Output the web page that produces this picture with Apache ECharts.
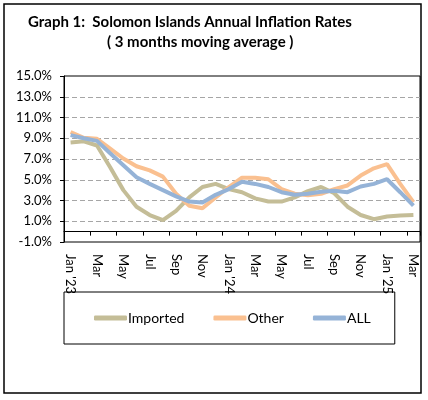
<!DOCTYPE html>
<html lang="en">
<head>
    <meta charset="UTF-8">
    <title>Solomon Islands Annual Inflation Rates</title>
    <script src="https://cdn.jsdelivr.net/npm/echarts@6/dist/echarts.min.js"></script>
    <style>
        html, body { margin: 0; padding: 0; background: #fff; }
    </style>
</head>
<body>
    <div id="main" style="width: 428px;height:400px;"></div>
    <script type="text/javascript">

        // months Jan '23 .. Mar '25
        var months = ["Jan '23", 'Feb', 'Mar', 'Apr', 'May', 'Jun', 'Jul', 'Aug', 'Sep', 'Oct', 'Nov', 'Dec',
                      "Jan '24", 'Feb', 'Mar', 'Apr', 'May', 'Jun', 'Jul', 'Aug', 'Sep', 'Oct', 'Nov', 'Dec',
                      "Jan '25", 'Feb', 'Mar'];

        var imported = [8.6, 8.7, 8.3, 6.2, 4.0, 2.4, 1.6, 1.1, 2.0, 3.3, 4.3, 4.6,
                        4.1, 3.8, 3.2, 2.9, 2.9, 3.3, 3.9, 4.3, 3.7, 2.4, 1.6, 1.2,
                        1.45, 1.55, 1.6];
        var other    = [9.6, 9.05, 8.95, 8.0, 7.05, 6.3, 5.9, 5.3, 3.65, 2.5, 2.25, 3.3,
                        4.3, 5.2, 5.2, 5.05, 4.1, 3.65, 3.5, 3.65, 4.1, 4.45, 5.4, 6.1,
                        6.5, 4.6, 2.85];
        var all      = [9.3, 9.0, 8.75, 7.55, 6.4, 5.25, 4.6, 4.0, 3.4, 2.9, 2.8, 3.55,
                        4.1, 4.8, 4.6, 4.3, 3.8, 3.55, 3.65, 3.85, 3.95, 3.8, 4.35, 4.6,
                        5.05, 3.8, 2.5];

        // value axis labels: -1.0% .. 15.0%
        var yTicks = [-1, 1, 3, 5, 7, 9, 11, 13, 15];

        var font = 'Lato, "Open Sans", sans-serif';

        var myChart = echarts.init(document.getElementById('main'));

        var option = {
            backgroundColor: '#fff',
            animation: false,
            textStyle: { fontFamily: font },
            title: [
                {
                    text: 'Graph 1:  Solomon Islands Annual Inflation Rates',
                    left: 28, top: 15, padding: 0,
                    textStyle: { fontFamily: font, fontSize: 15, fontWeight: 'bold', color: '#000' }
                },
                {
                    text: '( 3 months moving average )',
                    left: 107, top: 35, padding: 0,
                    textStyle: { fontFamily: font, fontSize: 15, fontWeight: 'bold', color: '#000' }
                }
            ],
            graphic: [
                {   // outer frame
                    type: 'rect',
                    shape: { x: 4, y: 4, width: 417, height: 389 },
                    style: { fill: 'none', stroke: '#000', lineWidth: 1.5 },
                    silent: true
                }
            ],
            legend: {
                data: ['Imported', 'Other', 'ALL'],
                left: 64, top: 292,
                padding: [19, 24, 19, 30],
                borderColor: '#000',
                borderWidth: 1,
                itemWidth: 33,
                itemHeight: 5,
                itemGap: 29,
                icon: 'roundRect',
                textStyle: { fontFamily: font, fontSize: 14, color: '#000', padding: [0, 0, 0, -4] }
            },
            grid: {
                left: 64, top: 76, right: 8, bottom: 158,
                show: true,
                borderColor: '#000',
                borderWidth: 1
            },
            xAxis: {
                type: 'category',
                data: months,
                boundaryGap: true,
                axisLine: { onZero: true, lineStyle: { color: '#000', width: 1 } },
                axisTick: { show: true, interval: 1, length: 4, lineStyle: { color: '#000' } },
                axisLabel: {
                    interval: 1, rotate: -90, margin: 12,
                    fontFamily: font, fontSize: 13, color: '#000'
                },
                splitLine: { show: false }
            },
            yAxis: {
                type: 'value',
                min: -1,
                max: 15,
                axisLine: { show: true, onZero: false, lineStyle: { color: '#000' } },
                axisTick: { show: true, length: 4, customValues: yTicks, lineStyle: { color: '#000' } },
                axisLabel: {
                    customValues: yTicks,
                    margin: 12,
                    fontFamily: font, fontSize: 13, color: '#000',
                    formatter: function (v) { return v.toFixed(1) + '%'; }
                },
                splitLine: {
                    show: true,
                    showMinLine: false,
                    showMaxLine: false,
                    lineStyle: { color: '#a6a6a6', type: [5, 3], width: 1 }
                }
            },
            series: [
                {
                    name: 'Imported', type: 'line', data: imported,
                    symbol: 'none', color: '#c4bd97',
                    lineStyle: { width: 4, color: '#c4bd97' }
                },
                {
                    name: 'Other', type: 'line', data: other,
                    symbol: 'none', color: '#fac090',
                    lineStyle: { width: 4, color: '#fac090' }
                },
                {
                    name: 'ALL', type: 'line', data: all,
                    symbol: 'none', color: '#95b3d7',
                    lineStyle: { width: 4, color: '#95b3d7' }
                }
            ]
        };

        myChart.setOption(option);

    </script>
</body>
</html>
